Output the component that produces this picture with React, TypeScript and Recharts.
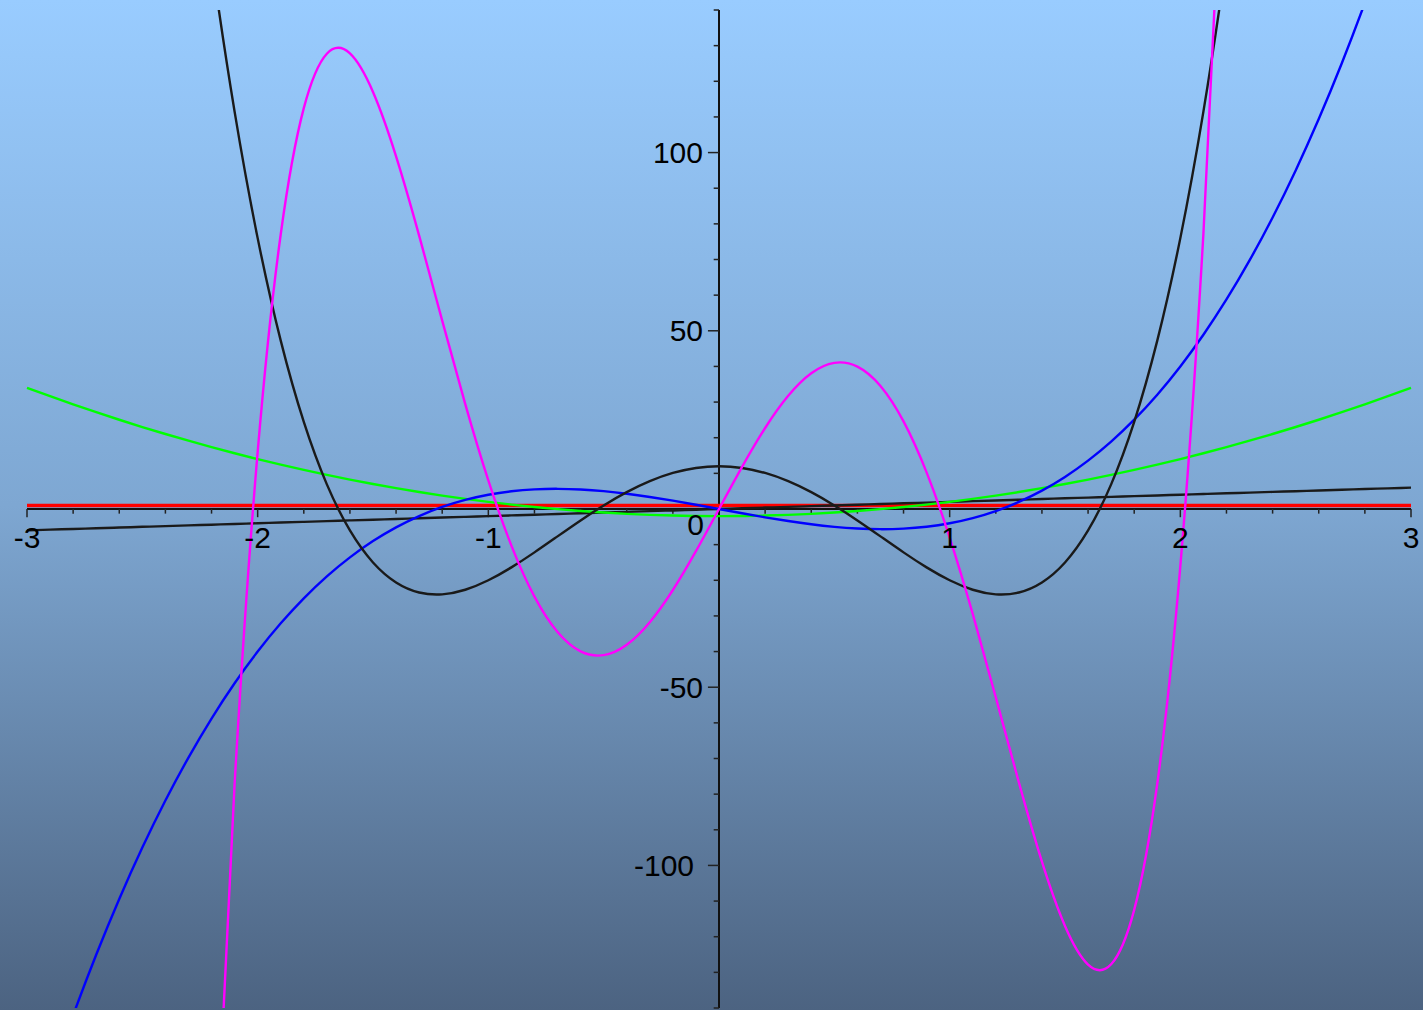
import React from "react";
import { LineChart, Line, XAxis, YAxis, ReferenceLine, ReferenceDot } from "recharts";

// sample points along x
const xs = [
  -3, -2.9, -2.8, -2.7, -2.6, -2.5, -2.4, -2.3, -2.2, -2.1,
  -2, -1.9, -1.8, -1.7, -1.6, -1.5, -1.4, -1.3, -1.2, -1.1,
  -1, -0.9, -0.8, -0.7, -0.6, -0.5, -0.4, -0.3, -0.2, -0.1,
  0, 0.1, 0.2, 0.3, 0.4, 0.5, 0.6, 0.7, 0.8, 0.9,
  1, 1.1, 1.2, 1.3, 1.4, 1.5, 1.6, 1.7, 1.8, 1.9,
  2, 2.1, 2.2, 2.3, 2.4, 2.5, 2.6, 2.7, 2.8, 2.9, 3,
];

// red, flat
const h0 = [
  1, 1, 1, 1, 1, 1, 1, 1, 1, 1,
  1, 1, 1, 1, 1, 1, 1, 1, 1, 1,
  1, 1, 1, 1, 1, 1, 1, 1, 1, 1,
  1, 1, 1, 1, 1, 1, 1, 1, 1, 1,
  1, 1, 1, 1, 1, 1, 1, 1, 1, 1,
  1, 1, 1, 1, 1, 1, 1, 1, 1, 1, 1,
];

// black, straight
const h1 = [
  -6, -5.8, -5.6, -5.4, -5.2, -5, -4.8, -4.6, -4.4, -4.2,
  -4, -3.8, -3.6, -3.4, -3.2, -3, -2.8, -2.6, -2.4, -2.2,
  -2, -1.8, -1.6, -1.4, -1.2, -1, -0.8, -0.6, -0.4, -0.2,
  0, 0.2, 0.4, 0.6, 0.8, 1, 1.2, 1.4, 1.6, 1.8,
  2, 2.2, 2.4, 2.6, 2.8, 3, 3.2, 3.4, 3.6, 3.8,
  4, 4.2, 4.4, 4.6, 4.8, 5, 5.2, 5.4, 5.6, 5.8, 6,
];

// green parabola
const h2 = [
  34, 31.64, 29.36, 27.16, 25.04, 23, 21.04, 19.16, 17.36, 15.64,
  14, 12.44, 10.96, 9.56, 8.24, 7, 5.84, 4.76, 3.76, 2.84,
  2, 1.24, 0.56, -0.04, -0.56, -1, -1.36, -1.64, -1.84, -1.96,
  -2, -1.96, -1.84, -1.64, -1.36, -1, -0.56, -0.04, 0.56, 1.24,
  2, 2.84, 3.76, 4.76, 5.84, 7, 8.24, 9.56, 10.96, 12.44,
  14, 15.64, 17.36, 19.16, 21.04, 23, 25.04, 27.16, 29.36, 31.64, 34,
];

// blue cubic
const h3 = [
  -180, -160.31, -142.02, -125.06, -109.41, -95, -81.79, -69.74, -58.78, -48.89,
  -40, -32.07, -25.06, -18.9, -13.57, -9, -5.15, -1.98, 0.58, 2.55,
  4, 4.97, 5.5, 5.66, 5.47, 5, 4.29, 3.38, 2.34, 1.19,
  0, -1.19, -2.34, -3.38, -4.29, -5, -5.47, -5.66, -5.5, -4.97,
  -4, -2.55, -0.58, 1.98, 5.15, 9, 13.57, 18.9, 25.06, 32.07,
  40, 48.89, 58.78, 69.74, 81.79, 95, 109.41, 125.06, 142.02, 160.31, 180,
];

// black quartic
const h4 = [
  876, 739.97, 619.13, 512.39, 418.68, 337, 266.36, 205.83, 154.49, 111.49,
  76, 47.23, 24.44, 6.91, -6.02, -15, -20.61, -23.42, -23.94, -22.65,
  -20, -16.38, -12.17, -7.68, -3.21, 1, 4.73, 7.81, 10.11, 11.52,
  12, 11.52, 10.11, 7.81, 4.73, 1, -3.21, -7.68, -12.17, -16.38,
  -20, -22.65, -23.94, -23.42, -20.61, -15, -6.02, 6.91, 24.44, 47.23,
  76, 111.49, 154.49, 205.83, 266.36, 337, 418.68, 512.39, 619.13, 739.97, 876,
];

// magenta quintic
const h5 = [
  -3816, -3009.33, -2331, -1766.37, -1301.88, -925, -624.2, -388.91, -209.48, -77.15,
  16, 77.09, 112.46, 127.73, 127.82, 117, 98.94, 76.71, 52.85, 29.42,
  8, -10.26, -24.57, -34.5, -39.93, -41, -38.09, -31.76, -22.73, -11.84,
  0, 11.84, 22.73, 31.76, 38.09, 41, 39.93, 34.5, 24.57, 10.26,
  -8, -29.42, -52.85, -76.71, -98.94, -117, -127.82, -127.73, -112.46, -77.09,
  -16, 77.15, 209.48, 388.91, 624.2, 925, 1301.88, 1766.37, 2331, 3009.33, 3816,
];

const xLabels = [-3, -2, -1, 1, 2, 3];
const yLabels = [-100, -50, 50, 100];
const xTicks = [
  -3, -2.8, -2.6, -2.4, -2.2, -2, -1.8, -1.6, -1.4, -1.2,
  -1, -0.8, -0.6, -0.4, -0.2, 0.2, 0.4, 0.6, 0.8,
  1, 1.2, 1.4, 1.6, 1.8, 2, 2.2, 2.4, 2.6, 2.8, 3,
];
const yTicks = [
  -140, -130, -120, -110, -100, -90, -80, -70, -60, -50, -40, -30, -20, -10,
  10, 20, 30, 40, 50, 60, 70, 80, 90, 100, 110, 120, 130, 140,
];

const data = xs.map((x, i) => ({
  x,
  h0: h0[i],
  h1: h1[i],
  h2: h2[i],
  h3: h3[i],
  h4: h4[i],
  h5: h5[i],
}));

const series = [
  { key: "h0", color: "#ff0000", width: 3.5 },
  { key: "h1", color: "#1a1a1a", width: 2.4 },
  { key: "h2", color: "#00ff00", width: 2.4 },
  { key: "h3", color: "#0000ff", width: 2.4 },
  { key: "h4", color: "#1a1a1a", width: 2.4 },
  { key: "h5", color: "#ff00ff", width: 2.4 },
];

const labelStyle = {
  fill: "#000",
  fontSize: 30,
  fontFamily: "'Liberation Sans', Arial, sans-serif",
};

export default function App() {
  return (
    <div
      style={{
        position: "absolute",
        top: 0,
        left: 0,
        width: 1423,
        height: 1010,
        background: "linear-gradient(to bottom, #99ccff 0%, #7ea7d2 50%, #4c6381 100%)",
      }}
    >
      <LineChart
        width={1423}
        height={1010}
        data={data}
        margin={{ top: 10, right: 12, bottom: 2, left: 27 }}
      >
        <XAxis type="number" dataKey="x" domain={[-3, 3]} hide />
        <YAxis type="number" domain={[-140, 140]} allowDataOverflow hide />

        {/* axes through the origin */}
        <ReferenceLine x={0} stroke="#111" strokeWidth={2} />
        <ReferenceLine y={0} stroke="#111" strokeWidth={2} />

        {xTicks.map((t) => (
          <ReferenceLine
            key={`xt${t}`}
            segment={[{ x: t, y: 0 }, { x: t, y: Number.isInteger(t) ? -2.3 : -1.3 }]}
            stroke="#222"
            strokeWidth={1.5}
          />
        ))}
        {yTicks.map((t) => (
          <ReferenceLine
            key={`yt${t}`}
            segment={[{ x: 0, y: t }, { x: t % 50 === 0 ? -0.048 : -0.023, y: t }]}
            stroke="#222"
            strokeWidth={1.5}
          />
        ))}

        {series.map((s) => (
          <Line
            key={s.key}
            dataKey={s.key}
            type="natural"
            stroke={s.color}
            strokeWidth={s.width}
            dot={false}
            activeDot={false}
            isAnimationActive={false}
          />
        ))}

        {xLabels.map((t) => (
          <ReferenceDot
            key={`xl${t}`}
            x={t}
            y={0}
            r={0}
            fill="none"
            stroke="none"
            label={{ value: String(t), position: "bottom", offset: 18, style: labelStyle }}
          />
        ))}
        {yLabels.map((t) => (
          <ReferenceDot
            key={`yl${t}`}
            x={0}
            y={t}
            r={0}
            fill="none"
            stroke="none"
            label={{ value: String(t), position: "left", offset: t === -100 ? 25 : 16, style: labelStyle }}
          />
        ))}
        <ReferenceDot
          x={0}
          y={-4.2}
          r={0}
          fill="none"
          stroke="none"
          label={{ value: "0", position: "left", offset: 15, style: labelStyle }}
        />
      </LineChart>
    </div>
  );
}
